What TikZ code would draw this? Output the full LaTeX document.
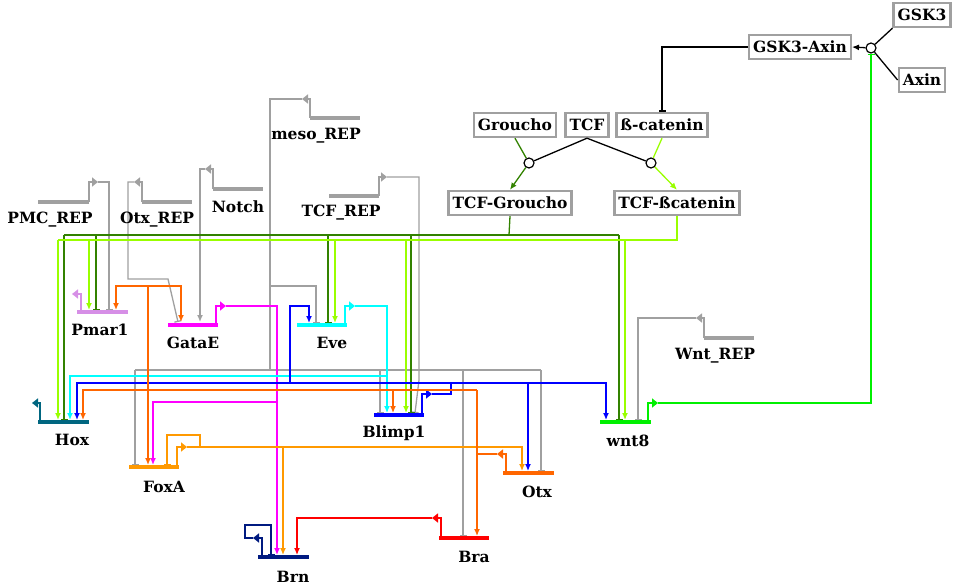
\documentclass[tikz,border=0pt]{standalone}
\usepackage{fontspec}
\setmainfont{DejaVu Serif}
\usetikzlibrary{arrows.meta}
\definecolor{repgray}{RGB}{160,160,160}
\definecolor{dkgreen}{RGB}{50,130,0}
\definecolor{limegr}{RGB}{153,255,0}
\definecolor{wntgreen}{RGB}{0,240,0}
\definecolor{otxorange}{RGB}{255,102,0}
\definecolor{foxorange}{RGB}{255,153,0}
\definecolor{gatamag}{RGB}{255,0,255}
\definecolor{evecyan}{RGB}{0,255,255}
\definecolor{blimpblue}{RGB}{0,0,255}
\definecolor{brnnavy}{RGB}{0,26,128}
\definecolor{brared}{RGB}{255,0,0}
\definecolor{hoxteal}{RGB}{0,102,128}
\definecolor{pmarlilac}{RGB}{214,143,230}
\tikzset{
  act/.style={-{Latex[length=7pt,width=6pt]}},
  rep/.style={-{Bar[width=7pt]}},
  genebar/.style={line width=4pt},
  prom/.style={line width=2.6pt,-{Triangle[length=6pt,width=9pt]}},
  lbl/.style={font=\fontsize{15.5}{18}\selectfont\bfseries},
  cbox/.style={draw=repgray,line width=2.4pt,inner xsep=4pt,inner ysep=0pt,
    minimum height=24pt,font=\fontsize{15.5}{18}\selectfont\bfseries},
  cplx/.style={circle,draw=black,fill=white,line width=1.2pt,inner sep=0pt,
    minimum size=10pt}
}
\begin{document}
\begin{tikzpicture}[x=1pt,y=-1pt,line width=1.3pt]
\useasboundingbox (0,0) rectangle (955,588);

% top part: wnt / beta-catenin
\node[cbox] (gsk) at (922,15) {GSK3};
\node[cbox] (axin) at (922,80) {Axin};
\node[cbox] (gskaxin) at (800,47) {GSK3-Axin};
\node[cbox] (groucho) at (515,125) {Groucho};
\node[cbox] (tcf) at (587,125) {TCF};
\node[cbox] (bcat) at (662,125) {ß-catenin};
\node[cbox] (tcfgro) at (510,203) {TCF-Groucho};
\node[cbox] (tcfbcat) at (677,203) {TCF-ßcatenin};
\node[cplx] (cgsk) at (871,48) {};
\node[cplx] (cgro) at (529,163) {};
\node[cplx] (cbcat) at (651,163) {};

\draw (gsk.south west) -- (cgsk);
\draw (axin.west) -- (cgsk);
\draw[act] (cgsk) -- (gskaxin.east);
\draw[rep] (gskaxin.west) -| (bcat.north);
\draw[dkgreen] (groucho.south) -- (cgro);
\draw[limegr] (bcat.south) -- (cbcat);
\draw (tcf.south) -- (cgro);
\draw (tcf.south) -- (cbcat);
\draw[act,dkgreen] (cgro) -- (tcfgro.north);
\draw[act,limegr] (cbcat) -- (tcfbcat.north);

% repressors
\coordinate (pmc) at (98,182);
\draw[genebar,repgray] (38,202) -- (89,202);
\draw[prom,repgray] (89,202) |- (pmc);
\draw[rep,repgray] (pmc) -| (109,310);
\node[lbl] (pmclbl) at (50,220) {PMC\_REP};

\coordinate (otxr) at (134,182);
\draw[genebar,repgray] (142,202) -- (192,202);
\draw[prom,repgray] (142,202) |- (otxr);
\draw[rep,repgray] (otxr) -| (128,279) -- (168,279) -- (178,322);
\node[lbl] (otxrlbl) at (157,220) {Otx\_REP};

\coordinate (notch) at (205,169);
\draw[genebar,repgray] (213,189) -- (263,189);
\draw[prom,repgray] (213,189) |- (notch);
\draw[act,repgray] (notch) -| (200,322);
\node[lbl] (notchlbl) at (238,207) {Notch};

\coordinate (meso) at (302,99);
\draw[genebar,repgray] (310,118) -- (360,118);
\draw[prom,repgray] (310,118) |- (meso);
\draw[repgray] (meso) -| (270,370);
\draw[rep,repgray] (270,286) -| (316,323);
\draw[repgray] (135,370) -- (541,370);
\foreach \x/\y in {135/465,380/413,463/536,541/471}
  \draw[rep,repgray] (\x,370) -- (\x,\y);
\node[lbl] (mesolbl) at (316,136) {meso\_REP};

\coordinate (tcfr) at (387,177);
\draw[genebar,repgray] (329,196) -- (379,196);
\draw[prom,repgray] (379,196) |- (tcfr);
\draw[rep,repgray] (tcfr) -| (419,380) -- (415,413);
\node[lbl] (tcfrlbl) at (341,213) {TCF\_REP};

\coordinate (wntr) at (696,318);
\draw[genebar,repgray] (704,338) -- (754,338);
\draw[prom,repgray] (704,338) |- (wntr);
\draw[rep,repgray] (wntr) -| (638,420);
\node[lbl] (wntrlbl) at (715,356) {Wnt\_REP};

% TCF outputs
\draw[dkgreen] (tcfgro.south) -- (509,235);
\draw[dkgreen] (64,235) -- (619,235);
\foreach \x/\y in {64/420,96/310,328/323,411/413,619/420}
  \draw[rep,dkgreen] (\x,235) -- (\x,\y);
\draw[limegr] (tcfbcat.south) |- (58,240);
\foreach \x/\y in {58/420,89/310,335/323,406/413,625/420}
  \draw[act,limegr] (\x,240) -- (\x,\y);

% genes
\coordinate (pmar) at (72,294);
\draw[genebar,pmarlilac] (77,312) -- (128,312);
\draw[prom,pmarlilac] (81,312) |- (pmar);
\node[lbl] (pmarlbl) at (100,330) {Pmar1};

\coordinate (hox) at (32,403);
\draw[genebar,hoxteal] (38,422) -- (89,422);
\draw[prom,hoxteal] (40,422) |- (hox);
\node[lbl] (hoxlbl) at (72,440) {Hox};

\coordinate (gata) at (226,306);
\draw[genebar,gatamag] (168,325) -- (218,325);
\draw[prom,gatamag] (216,325) |- (gata);
\draw[act,gatamag] (gata) -| (277,555);
\draw[act,gatamag] (277,402) -| (153,465);
\node[lbl] (gatalbl) at (193,343) {GataE};

\coordinate (eve) at (355,306);
\draw[genebar,evecyan] (297,325) -- (347,325);
\draw[prom,evecyan] (345,325) |- (eve);
\draw[act,evecyan] (eve) -| (387,413);
\draw[act,evecyan] (387,376) -| (70,420);
\node[lbl] (evelbl) at (332,343) {Eve};

\coordinate (blimp) at (432,394);
\draw[genebar,blimpblue] (374,415) -- (424,415);
\draw[prom,blimpblue] (422,415) |- (blimp);
\draw[blimpblue] (blimp) -| (451,383);
\draw[act,blimpblue] (451,383) -| (77,420);
\draw[act,blimpblue] (451,383) -| (606,420);
\draw[act,blimpblue] (528,383) -- (528,471);
\draw[act,blimpblue] (290,383) |- (309,306) -- (309,323);
\node[lbl] (blimplbl) at (394,433) {Blimp1};

\coordinate (wnt) at (658,403);
\draw[genebar,wntgreen] (600,422) -- (651,422);
\draw[prom,wntgreen] (648,422) |- (wnt);
\draw[rep,wntgreen] (wnt) -| (cgsk.south);
\node[lbl] (wntlbl) at (628,441) {wnt8};

\coordinate (foxa) at (187,447);
\draw[genebar,foxorange] (129,467) -- (179,467);
\draw[prom,foxorange] (177,467) |- (foxa);
\draw[act,foxorange] (foxa) -| (522,471);
\draw[rep,foxorange] (200,447) |- (167,435) -- (167,465);
\draw[act,foxorange] (283,447) -- (283,555);
\node[lbl] (foxalbl) at (164,487) {FoxA};

\coordinate (otx) at (497,454);
\draw[genebar,otxorange] (503,473) -- (554,473);
\draw[prom,otxorange] (506,473) |- (otx);
\draw[otxorange] (otx) -- (477,454);
\draw[act,otxorange] (477,390) -- (477,536);
\draw[act,otxorange] (477,390) -| (83,420);
\draw[act,otxorange] (393,390) -- (393,413);
\draw[act,otxorange] (148,286) -- (148,465);
\draw[act,otxorange] (181,286) -| (116,310);
\draw[act,otxorange] (148,286) -| (181,322);
\node[lbl] (otxlbl) at (537,492) {Otx};

\coordinate (bra) at (432,518);
\draw[genebar,brared] (439,538) -- (489,538);
\draw[prom,brared] (441,538) |- (bra);
\draw[act,brared] (bra) -| (297,555);
\node[lbl] (bralbl) at (474,557) {Bra};

\coordinate (brn) at (253,538);
\draw[genebar,brnnavy] (258,557) -- (309,557);
\draw[prom,brnnavy] (262,557) |- (brn);
\draw[rep,brnnavy] (brn) -- (245,538) |- (271,525) -- (271,555);
\node[lbl] (brnlbl) at (293,577) {Brn};
\end{tikzpicture}
\end{document}
